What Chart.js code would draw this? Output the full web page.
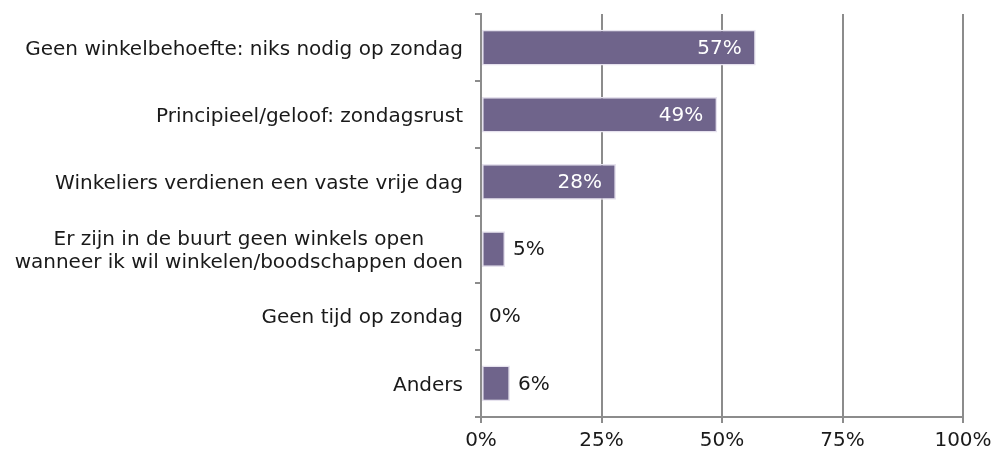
<!DOCTYPE html>
<html>
<head>
<meta charset="utf-8">
<script src="https://cdn.jsdelivr.net/npm/chart.js@4/dist/chart.umd.min.js"></script>
<style>
  html, body { margin: 0; padding: 0; background: #fff; }
  #wrap { width: 995px; height: 452px; position: relative; }
</style>
</head>
<body>
<div id="wrap"><canvas id="chart"></canvas></div>
<script>
// Categories (top to bottom) and percentages
const categories = [
  'Geen winkelbehoefte: niks nodig op zondag',
  'Principieel/geloof: zondagsrust',
  'Winkeliers verdienen een vaste vrije dag',
  ['Er zijn in de buurt geen winkels open', 'wanneer ik wil winkelen/boodschappen doen'],
  'Geen tijd op zondag',
  'Anders'
];
const values = [57, 49, 28, 5, 0, 6];
const xTicks = [0, 25, 50, 75, 100];

const FONT = 'Verdana, "DejaVu Sans", sans-serif';
const FONT_SIZE = 20;
const GRID = '#8c8c8c';

// Draw value labels: inside (white) for long bars, outside (dark) for short ones
const valueLabels = {
  id: 'valueLabels',
  afterDatasetsDraw(chart) {
    const ctx = chart.ctx;
    const meta = chart.getDatasetMeta(0);
    ctx.save();
    ctx.font = FONT_SIZE + 'px ' + FONT;
    ctx.textBaseline = 'middle';
    meta.data.forEach((bar, i) => {
      const v = values[i];
      const text = v + '%';
      if (v >= 20) {
        ctx.fillStyle = '#ffffff';
        ctx.textAlign = 'right';
        ctx.fillText(text, bar.x - 14, bar.y + 1);
      } else {
        ctx.fillStyle = '#1a1a1a';
        ctx.textAlign = 'left';
        ctx.fillText(text, bar.x + 8, bar.y + 1);
      }
    });
    ctx.restore();
  }
};

// Category labels, multi-line labels centred on each other, block right-aligned
const categoryLabels = {
  id: 'categoryLabels',
  afterDraw(chart) {
    const ctx = chart.ctx;
    const yScale = chart.scales.y;
    const right = chart.chartArea.left - 18;
    const lineH = FONT_SIZE * 1.15;
    ctx.save();
    ctx.font = FONT_SIZE + 'px ' + FONT;
    ctx.fillStyle = '#1a1a1a';
    ctx.textBaseline = 'middle';
    ctx.textAlign = 'center';
    categories.forEach((label, i) => {
      const lines = Array.isArray(label) ? label : [label];
      const w = Math.max(...lines.map(l => ctx.measureText(l).width));
      const cx = right - w / 2;
      const y0 = yScale.getPixelForValue(i) - (lines.length - 1) * lineH / 2;
      lines.forEach((l, j) => ctx.fillText(l, cx, y0 + j * lineH + 2));
    });
    ctx.restore();
  }
};

new Chart(document.getElementById('chart'), {
  type: 'bar',
  data: {
    labels: categories,
    datasets: [{
      data: values,
      backgroundColor: '#6f648b',
      borderColor: '#e6e2ee',
      borderWidth: 1.5,
      borderSkipped: false,
      barPercentage: 0.53,
      categoryPercentage: 1
    }]
  },
  options: {
    indexAxis: 'y',
    responsive: true,
    maintainAspectRatio: false,
    animation: false,
    layout: { padding: { top: 14, right: 32, left: 0, bottom: 0 } },
    plugins: {
      legend: { display: false },
      tooltip: { enabled: false }
    },
    scales: {
      x: {
        min: 0,
        max: 100,
        afterBuildTicks(scale) {
          scale.ticks = xTicks.map(v => ({ value: v }));
        },
        afterFit(scale) {
          scale.height = 35;
          scale.paddingRight = 0;
          scale.paddingLeft = 0;
        },
        grid: { color: GRID, lineWidth: 2, tickLength: 6, drawTicks: true },
        border: { color: GRID, width: 2 },
        ticks: {
          color: '#1a1a1a',
          font: { family: FONT, size: FONT_SIZE },
          padding: 6,
          callback: v => v + '%'
        }
      },
      y: {
        afterFit(scale) { scale.width = 481; },
        grid: { color: GRID, lineWidth: 2, tickLength: 6, drawOnChartArea: false, offset: true },
        border: { color: GRID, width: 2 },
        ticks: { display: false }
      }
    }
  },
  plugins: [valueLabels, categoryLabels]
});
</script>
</body>
</html>
